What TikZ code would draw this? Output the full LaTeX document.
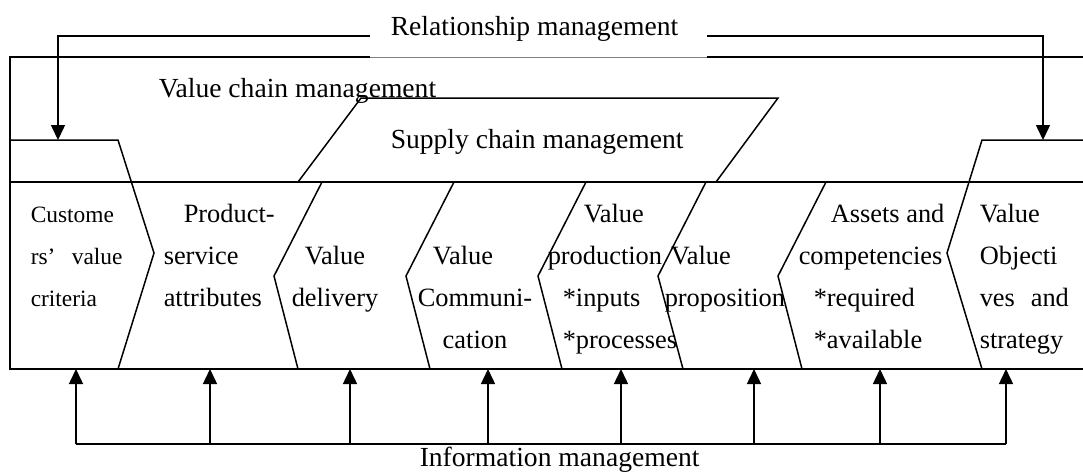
\documentclass[tikz,border=0pt]{standalone}
\usepackage{fontspec}
\setmainfont{Liberation Serif}
\usetikzlibrary{arrows.meta}

\begin{document}
\begin{tikzpicture}[x=0.5pt,y=-0.5pt,line width=0.75pt,
  >={Triangle[width=7pt,length=7.5pt]},
  title/.style={anchor=base west,inner sep=0pt,font=\fontsize{13.8}{16}\selectfont},
  cell/.style={anchor=base west,align=left,inner sep=0pt,font=\fontsize{13.2}{20.85}\selectfont}]
\useasboundingbox (0,0) rectangle (1083,473);

% outer frame and rows
\draw (370,57) -- (10,57) -- (10,369) -- (1083,369);
\draw (707,57) -- (1083,57);
\draw[gray,line width=0.3pt] (370,57) -- (707,57);
\draw (10,182) -- (1083,182);

% supply chain box
\draw (298,182) -- (361,98) -- (778,98) -- (716,182);

% end boxes
\draw (10,140) -- (118,140) -- (154,253) -- (118,369);
\draw (1083,140) -- (982,140) -- (947,253) -- (982,369);

% chevrons
\draw (322,182) -- (274,276) -- (298,369);
\draw (454,182) -- (406,276) -- (430,369);
\draw (586,182) -- (538,276) -- (562,369);
\draw (706,182) -- (658,276) -- (683,369);
\draw (826,182) -- (778,276) -- (802,369);

% titles
\node[title] (rel) at (390,35) {Relationship management};
\node[title] (vcm) at (158,97) {Value chain management};
\node[title] (scm) at (390,148) {Supply chain management};
\node[title] (inf) at (419,466) {Information management};

% cells (placed at the baseline of their last line)
\node[cell,font=\fontsize{11.7}{20.85}\selectfont] (cust) at (30,306)
  {Custome\\rs’\hspace{0.7em}value\\criteria};
\node[cell] (prod) at (163,306) {\hspace{10pt}Product-\\service\\attributes};
\node[cell,anchor=base,align=center] (deliv) at (335,306) {Value\\delivery};
\node[cell,anchor=base,align=center] (comm) at (475,348) {Value\hspace{12pt}\mbox{}\\Communi-\\cation};
\node[cell] (vprod) at (547,348) {\hspace{18pt}Value\\production\\\hspace{7.5pt}*inputs\\\hspace{7.5pt}*processes};
\node[cell] (prop) at (664,306) {\hspace{3pt}Value\\proposition};
\node[cell] (asset) at (798,348) {\hspace{16pt}Assets and\\competencies\\\hspace{7.5pt}*required\\\hspace{7.5pt}*available};
\node[cell] (obj) at (979,348) {Value\\Objecti\\ves\hspace{0.6em}and\\strategy};

% relationship arrows
\coordinate (relL) at (370,36);
\coordinate (relR) at (707,36);
\coordinate (custTop) at (58,140);
\coordinate (objTop) at (1043,140);
\draw[->] (relL) -| (custTop);
\draw[->] (relR) -| (objTop);

% information arrows
\draw (76,444) -- (1006,444);
\foreach \x in {76,210,350,488,621,754,880,1006}
  \draw[->] (\x,444) -- (\x,369);
\end{tikzpicture}
\end{document}
